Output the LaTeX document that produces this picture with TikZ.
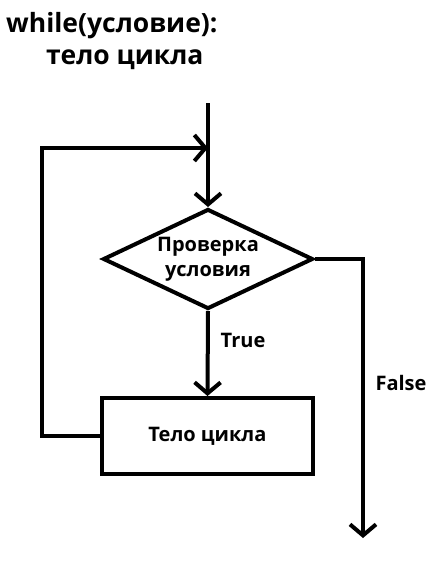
\documentclass[tikz,border=0pt]{standalone}
\usepackage{fontspec}
\setmainfont{Open Sans}
\usetikzlibrary{positioning,arrows.meta,shapes.geometric}

\begin{document}
\begin{tikzpicture}[
  x=1pt, y=-1pt,
  lbl/.style={font=\bfseries\fontsize{20}{24}\selectfont, inner sep=1pt},
  ttl/.style={font=\bfseries\fontsize{26.5}{30}\selectfont, inner sep=0pt, anchor=base west},
  condv/.style={diamond, draw=black, line width=4pt, aspect=2.1, minimum width=210pt, minimum height=100pt, inner sep=0pt, align=center, font=\bfseries\fontsize{20}{25}\selectfont},
  bodyv/.style={rectangle, draw=black, line width=4pt, minimum width=211pt, minimum height=76pt, font=\bfseries\fontsize{20}{24}\selectfont},
  flow/.style={draw=black, line width=4pt, -{Straight Barb[length=11pt,width=26pt,line width=4pt]}}
]
\useasboundingbox (0,0) rectangle (445,562);

\node[ttl] (head) at (6,32) {while(условие):};
\node[ttl] (headb) at (46,64) {тело цикла};

\coordinate (start) at (208,103);
\node[condv] (cond) at (208,259) {Проверка\\условия};
\node[bodyv] (body) at (207.5,436) {Тело цикла};
\coordinate (loopt) at (42,148);
\coordinate (join) at (208,148);
\coordinate (fend) at (363,538);

\draw[flow] (start) -- (cond.north);
\draw[flow] (cond.south) -- (body.north);
\draw[flow] (body.west) -| (loopt) -- (join);
\draw[flow] (cond.east) -| (fend);
\node[lbl] (ltrue) at (243,340) {True};
\node[lbl] (lfalse) at (401,383) {False};

\end{tikzpicture}
\end{document}
